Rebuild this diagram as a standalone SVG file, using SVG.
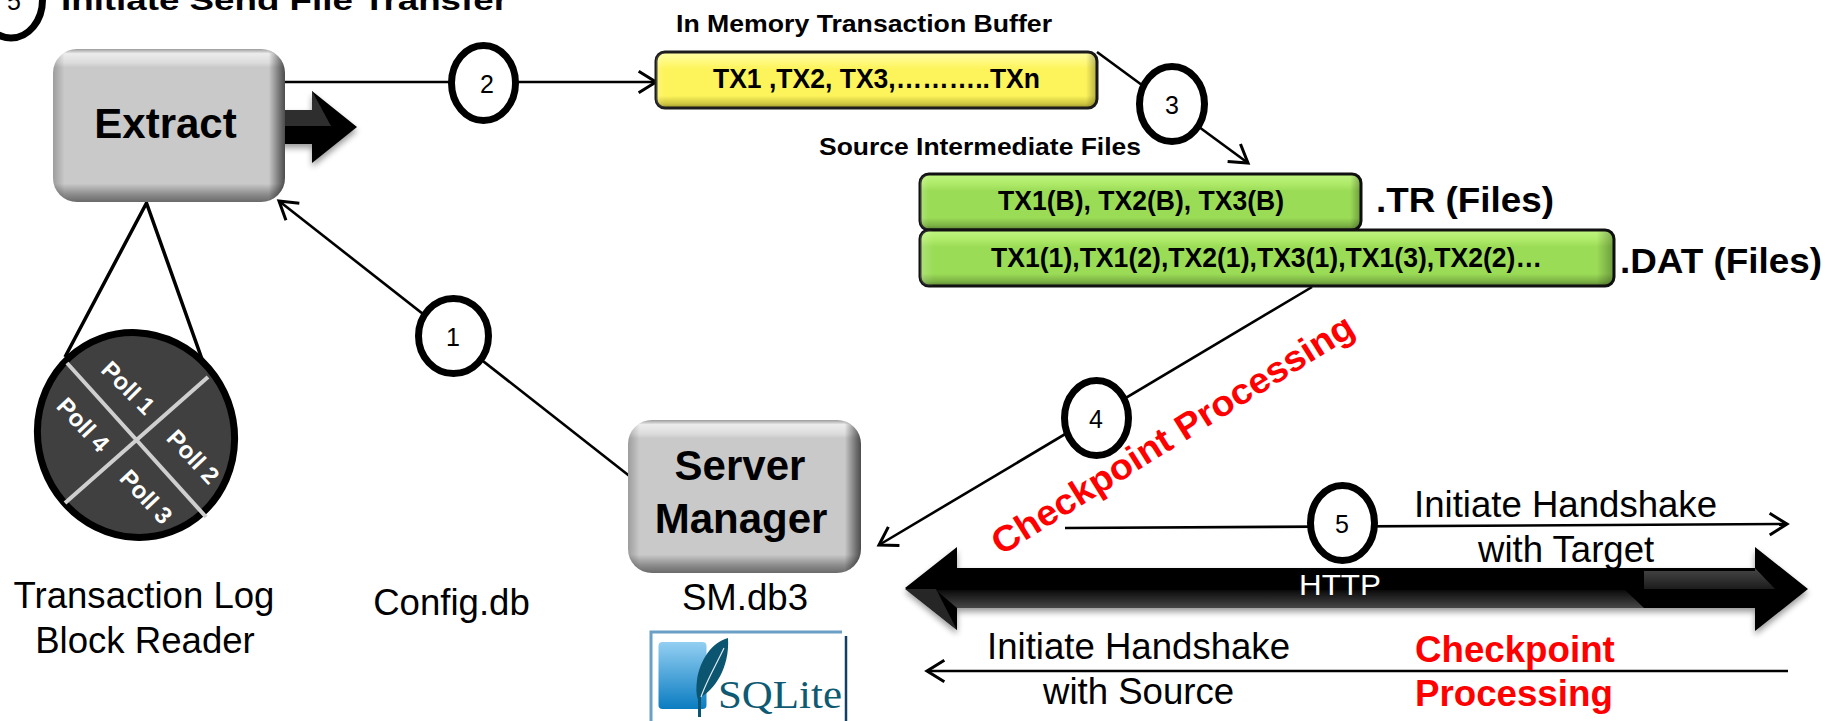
<svg xmlns="http://www.w3.org/2000/svg" width="1827" height="721" viewBox="0 0 1827 721">
<style>
text{font-family:"Liberation Sans",Arial,sans-serif;fill:#000}
.b{font-weight:bold}
.r{fill:#f00}
.w{fill:#fff}
.m{text-anchor:middle}
.lbl{font-size:36.6px}
.big{font-size:42px;font-weight:bold;text-anchor:middle}
.num{font-size:25px;text-anchor:middle}
.con{fill:none;stroke:#000;stroke-width:2.6;marker-end:url(#open)}
.badge{fill:#fff;stroke:#000;stroke-width:7}
.gray{fill:url(#grayV)}
.side{fill:url(#grayH)}
.ye{fill:url(#yeV);stroke:#1c1c1c;stroke-width:3}
.gr{fill:url(#grV);stroke:#111;stroke-width:3}
.edge{fill:url(#barH)}
.poll{font-size:24px;font-weight:bold;fill:#fff;text-anchor:middle}
</style>
<defs>
<marker id="open" markerUnits="userSpaceOnUse" markerWidth="26" markerHeight="26" refX="19" refY="12" orient="auto" viewBox="0 0 24 24"><path d="M3,2 L19,12 L3,22" fill="none" stroke="#000" stroke-width="2.8"/></marker>
<linearGradient id="grayV" x1="0" y1="0" x2="0" y2="1"><stop offset="0" stop-color="#9c9c9c"/><stop offset=".03" stop-color="#ececec"/><stop offset=".09" stop-color="#dcdcdc"/><stop offset=".12" stop-color="#c9c9c9"/><stop offset=".88" stop-color="#c9c9c9"/><stop offset=".95" stop-color="#8c8c8c"/><stop offset="1" stop-color="#6a6a6a"/></linearGradient>
<linearGradient id="grayH" x1="0" y1="0" x2="1" y2="0"><stop offset="0" stop-color="#000" stop-opacity=".22"/><stop offset=".05" stop-color="#000" stop-opacity="0"/><stop offset=".93" stop-color="#000" stop-opacity="0"/><stop offset=".985" stop-color="#000" stop-opacity=".5"/><stop offset="1" stop-color="#000" stop-opacity=".62"/></linearGradient>
<linearGradient id="yeV" x1="0" y1="0" x2="0" y2="1"><stop offset="0" stop-color="#ffffa8"/><stop offset=".18" stop-color="#fff97a"/><stop offset=".3" stop-color="#fdf45c"/><stop offset=".78" stop-color="#fdf45c"/><stop offset=".92" stop-color="#cfc740"/><stop offset="1" stop-color="#9d962c"/></linearGradient>
<linearGradient id="grV" x1="0" y1="0" x2="0" y2="1"><stop offset="0" stop-color="#c0f682"/><stop offset=".18" stop-color="#aeea68"/><stop offset=".3" stop-color="#9bdc57"/><stop offset=".78" stop-color="#9bdc57"/><stop offset=".92" stop-color="#7cb245"/><stop offset="1" stop-color="#5a8032"/></linearGradient>
<linearGradient id="barH" x1="0" y1="0" x2="1" y2="0"><stop offset="0" stop-color="#fff" stop-opacity=".18"/><stop offset=".02" stop-color="#fff" stop-opacity="0"/><stop offset=".975" stop-color="#000" stop-opacity="0"/><stop offset="1" stop-color="#000" stop-opacity=".3"/></linearGradient>
<linearGradient id="sq" x1="0" y1="0" x2="0" y2="1"><stop offset="0" stop-color="#93cff2"/><stop offset="1" stop-color="#0a7cc1"/></linearGradient>
<linearGradient id="shLow" x1="0" y1="0" x2="0" y2="1"><stop offset="0" stop-color="#0a0a0a"/><stop offset="1" stop-color="#474747"/></linearGradient>
<linearGradient id="shUp" x1="0" y1="0" x2="0" y2="1"><stop offset="0" stop-color="#474747"/><stop offset="1" stop-color="#1c1c1c"/></linearGradient>
<filter id="soft" x="-10%" y="-30%" width="120%" height="170%"><feGaussianBlur in="SourceAlpha" stdDeviation="3"/><feOffset dy="4"/><feComponentTransfer><feFuncA type="linear" slope=".4"/></feComponentTransfer><feMerge><feMergeNode/><feMergeNode in="SourceGraphic"/></feMerge></filter>
</defs>

<g id="title">
<ellipse class="badge" cx="11" cy="0" rx="31.5" ry="38"/>
<text class="num" x="14" y="10">5</text>
<text class="b" x="61" y="10" font-size="28" textLength="447" lengthAdjust="spacingAndGlyphs">Initiate Send File Transfer</text>
</g>

<g id="extract-out-arrow" filter="url(#soft)">
<path d="M280,110 H312 V91 L357,127 L312,163 V144 H280 Z" fill="#000"/>
<path d="M280,110 H312 V91 L331,126 H280 Z" fill="#2e2e2e"/>
</g>

<g id="connectors">
<line class="con" x1="278" y1="82" x2="656" y2="82"/>
<line class="con" x1="632" y1="478" x2="279" y2="201"/>
<line class="con" x1="1097" y1="52" x2="1248" y2="163"/>
<line class="con" x1="1312" y1="287" x2="879" y2="545"/>
<line class="con" x1="1065" y1="528" x2="1787" y2="524"/>
<line class="con" x1="1788" y1="671" x2="927" y2="671"/>
<path d="M65,357 L146.5,203 L203,362" fill="none" stroke="#000" stroke-width="3.5"/>
</g>

<g id="extract">
<rect class="gray" x="53" y="49" width="232" height="153" rx="24"/>
<rect class="side" x="53" y="49" width="232" height="153" rx="24"/>
<text class="big" x="165.5" y="138">Extract</text>
</g>

<g id="server-manager">
<rect class="gray" x="628" y="420" width="233" height="153" rx="24"/>
<rect class="side" x="628" y="420" width="233" height="153" rx="24"/>
<text class="big" x="740" y="480">Server</text>
<text class="big" x="741" y="533">Manager</text>
</g>

<g id="buffer">
<text class="b" x="676" y="32" font-size="24" textLength="376" lengthAdjust="spacingAndGlyphs">In Memory Transaction Buffer</text>
<rect class="ye" x="656" y="52" width="441" height="56" rx="9"/>
<rect class="edge" x="656" y="52" width="441" height="56" rx="9"/>
<text class="b" x="713" y="88" font-size="27" textLength="327" lengthAdjust="spacingAndGlyphs">TX1 ,TX2, TX3,………..TXn</text>
</g>

<g id="tr-files">
<text class="b" x="819" y="155" font-size="24" textLength="322" lengthAdjust="spacingAndGlyphs">Source Intermediate Files</text>
<rect class="gr" x="920" y="174" width="441" height="56" rx="9"/>
<rect class="edge" x="920" y="174" width="441" height="56" rx="9"/>
<text class="b" x="998" y="210" font-size="27" textLength="286" lengthAdjust="spacingAndGlyphs">TX1(B), TX2(B), TX3(B)</text>
<text class="b" x="1376" y="212" font-size="35" textLength="178" lengthAdjust="spacingAndGlyphs">.TR (Files)</text>
</g>

<g id="dat-files">
<rect class="gr" x="920" y="230" width="694" height="56" rx="9"/>
<rect class="edge" x="920" y="230" width="694" height="56" rx="9"/>
<text class="b" x="991" y="267" font-size="27" textLength="551" lengthAdjust="spacingAndGlyphs">TX1(1),TX1(2),TX2(1),TX3(1),TX1(3),TX2(2)…</text>
<text class="b" x="1620" y="273" font-size="35" textLength="202" lengthAdjust="spacingAndGlyphs">.DAT (Files)</text>
</g>

<g id="poll-wheel">
<ellipse cx="136" cy="435" rx="98" ry="103" fill="#404040" stroke="#000" stroke-width="7" transform="rotate(-20 136 435)"/>
<path d="M67,363 L206,517 M208,377 L65,503" stroke="#cfcfcf" stroke-width="4" fill="none"/>
<text class="poll" transform="translate(128 388) rotate(45) translate(0 8)">Poll 1</text>
<text class="poll" transform="translate(193 457) rotate(47) translate(0 8)">Poll 2</text>
<text class="poll" transform="translate(146 497) rotate(47) translate(0 8)">Poll 3</text>
<text class="poll" transform="translate(83 425) rotate(47) translate(0 8)">Poll 4</text>
</g>

<g id="labels">
<text class="lbl m" x="144" y="608">Transaction Log</text>
<text class="lbl m" x="145" y="653">Block Reader</text>
<text class="lbl m" x="451.5" y="615">Config.db</text>
<text class="lbl m" x="745" y="610">SM.db3</text>
<text class="b r" transform="translate(1001 556) rotate(-32)" font-size="36" textLength="420" lengthAdjust="spacingAndGlyphs">Checkpoint Processing</text>
</g>

<g id="sqlite-logo">
<path d="M651,721 V632 H842" fill="none" stroke="#6b9fc6" stroke-width="3"/>
<path d="M846,636 V721" fill="none" stroke="#123f66" stroke-width="2.5"/>
<rect x="658.5" y="642" width="48" height="67" rx="4" fill="url(#sq)"/>
<path d="M728,638 C712,642 700,660 697,680 C696,688 696,694 698,700 L698,717 L701,717 L701,697 C714,690 730,668 728,638 Z" fill="#0b5570"/>
<path d="M724,648 C716,665 706,682 701,697" fill="none" stroke="#dfe9ef" stroke-width="1.2"/>
<text x="718" y="708" font-size="40" textLength="124" lengthAdjust="spacingAndGlyphs" style="font-family:'Liberation Serif',serif;fill:#0f5a73">SQLite</text>
</g>

<g id="http-arrow">
<g filter="url(#soft)">
<path d="M905,588 L957,547 V568 H1755 V547 L1808,589 L1755,631 V608 H957 V630 Z" fill="#000"/>
</g>
<path d="M905,589 H936 L957,630 Z" fill="#262626"/>
<path d="M936,590 H1625 L1644,608 H957 Z" fill="url(#shLow)"/>
<path d="M1644,571 H1755 V568 L1775,589 H1644 Z" fill="url(#shUp)"/>
<text class="w m" x="1340" y="595" font-size="30" textLength="82" lengthAdjust="spacingAndGlyphs">HTTP</text>
</g>

<g id="badge-1"><ellipse class="badge" cx="453.5" cy="336" rx="35" ry="37.5"/><text class="num" x="453" y="346">1</text></g>
<g id="badge-2"><ellipse class="badge" cx="483.5" cy="83" rx="32" ry="37.5"/><text class="num" x="487" y="93">2</text></g>
<g id="badge-3"><ellipse class="badge" cx="1172" cy="104" rx="32.5" ry="37.5"/><text class="num" x="1172" y="114">3</text></g>
<g id="badge-4"><ellipse class="badge" cx="1096.5" cy="418" rx="32" ry="37.5"/><text class="num" x="1096" y="428">4</text></g>
<g id="badge-5"><ellipse class="badge" cx="1342.5" cy="523" rx="32" ry="37.5"/><text class="num" x="1342" y="533">5</text></g>

<g id="handshake-labels">
<text class="lbl" x="1414" y="517">Initiate Handshake</text>
<text class="lbl" x="1478" y="562">with Target</text>
<text class="lbl" x="987" y="659">Initiate Handshake</text>
<text class="lbl" x="1043" y="704">with Source</text>
<text class="b r" x="1415" y="662" font-size="36.7">Checkpoint</text>
<text class="b r" x="1415" y="706" font-size="36.7">Processing</text>
</g>
</svg>
